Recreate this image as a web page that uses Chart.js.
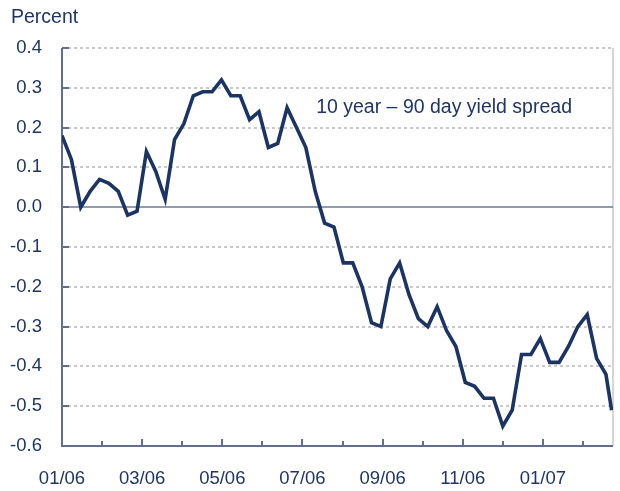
<!DOCTYPE html>
<html>
<head>
<meta charset="utf-8">
<style>
  html, body { margin: 0; padding: 0; background: #fff; }
  #wrap { width: 620px; height: 491px; }
</style>
<script src="https://cdn.jsdelivr.net/npm/chart.js@4.4.0/dist/chart.umd.min.js"></script>
</head>
<body>
<div id="wrap"><canvas id="spreadCanvas"></canvas></div>
<script>
// month ticks along the bottom, one per month from 01/06, only every other one labelled
const monthLabels = ['01/06', '', '03/06', '', '05/06', '', '07/06', '', '09/06', '', '11/06', '', '01/07', '']

// weekly 10 year - 90 day spread, percent
const spread = [
  0.18, 0.12, 0.00, 0.04, 0.07, 0.06, 0.04, -0.02, -0.01, 0.14,
  0.09, 0.02, 0.17, 0.21, 0.28, 0.29, 0.29, 0.32, 0.28, 0.28,
  0.22, 0.24, 0.15, 0.16, 0.25, 0.20, 0.15, 0.04, -0.04, -0.05,
  -0.14, -0.14, -0.20, -0.29, -0.30, -0.18, -0.14, -0.22, -0.28, -0.30,
  -0.25, -0.31, -0.35, -0.44, -0.45, -0.48, -0.48, -0.55, -0.51, -0.37,
  -0.37, -0.33, -0.39, -0.39, -0.35, -0.30, -0.27, -0.38, -0.42, -0.51
]
// the last reading comes a few days after the previous week
const lastWeek = 58.6
const weeksPerMonth = 4.273
const weeksShown = 58.75

const seriesLabel = '10 year \u2013 90 day yield spread'
const unitLabel = 'Percent'

const navy = '#1b3464'
const textColor = '#1f3664'
const axisColor = '#5f6f8c'
const font = '"Liberation Sans", Arial, sans-serif'

const points = spread.map((v, i) => ({ x: i === spread.length - 1 ? lastWeek : i, y: v }))

const axesPlugin = {
  id: 'axes',
  beforeDatasetsDraw(chart) {
    const { ctx, chartArea: a, scales: { x, y } } = chart
    ctx.save()
    // dotted grid
    ctx.lineWidth = 1.5
    ctx.strokeStyle = '#b8b8b8'
    ctx.setLineDash([3, 3])
    y.ticks.forEach(t => {
      if (Math.abs(t.value) < 1e-9 || t.value < y.min + 1e-9) return
      const py = Math.round(y.getPixelForValue(t.value))
      ctx.beginPath(); ctx.moveTo(a.left, py); ctx.lineTo(a.right, py); ctx.stroke()
    })
    ctx.setLineDash([])
    // right frame
    ctx.strokeStyle = '#c8c8c8'
    ctx.beginPath(); ctx.moveTo(a.right, a.top); ctx.lineTo(a.right, a.bottom); ctx.stroke()
    // zero line
    const zy = Math.round(y.getPixelForValue(0))
    ctx.strokeStyle = '#6c7b97'
    ctx.beginPath(); ctx.moveTo(a.left, zy); ctx.lineTo(a.right, zy); ctx.stroke()
    // axes
    ctx.strokeStyle = axisColor
    ctx.lineWidth = 2
    ctx.beginPath()
    ctx.moveTo(a.left, a.top); ctx.lineTo(a.left, a.bottom); ctx.lineTo(a.right, a.bottom)
    ctx.stroke()
    // inward ticks
    y.ticks.forEach(t => {
      const py = Math.round(y.getPixelForValue(t.value))
      ctx.beginPath(); ctx.moveTo(a.left, py); ctx.lineTo(a.left + 7, py); ctx.stroke()
    })
    x.ticks.forEach((t, k) => {
      const px = Math.round(x.getPixelForValue(t.value))
      const len = k % 2 === 0 ? 7 : 5
      ctx.beginPath(); ctx.moveTo(px, a.bottom); ctx.lineTo(px, a.bottom - len); ctx.stroke()
    })
    ctx.restore()
  },
  afterDraw(chart) {
    const { ctx, scales: { x, y } } = chart
    ctx.save()
    ctx.fillStyle = textColor
    ctx.font = '19.5px ' + font
    ctx.textBaseline = 'middle'
    ctx.textAlign = 'left'
    ctx.fillText(unitLabel, 11, 18)
    ctx.fillText(seriesLabel, x.getPixelForValue(27.1), y.getPixelForValue(0.251))
    ctx.restore()
  }
}

const spreadChart = new Chart(document.getElementById('spreadCanvas'), {
  type: 'line',
  data: {
    datasets: [{
      label: seriesLabel,
      data: points,
      borderColor: navy,
      borderWidth: 3.6,
      pointRadius: 0,
      tension: 0,
      fill: false
    }]
  },
  options: {
    responsive: true,
    maintainAspectRatio: false,
    animation: false,
    layout: { padding: { top: 48, right: 7, left: 0, bottom: 0 } },
    plugins: { legend: { display: false }, tooltip: { enabled: false } },
    scales: {
      x: {
        type: 'linear',
        min: 0,
        max: weeksShown,
        grid: { display: false },
        border: { display: false },
        afterBuildTicks: scale => {
          scale.ticks = monthLabels.map((l, k) => ({ value: k * weeksPerMonth }))
        },
        afterFit: scale => { scale.height = 45 },
        ticks: {
          autoSkip: false,
          maxRotation: 0,
          padding: 14,
          color: textColor,
          font: { family: font, size: 18.5 },
          callback: (v, i) => monthLabels[i]
        }
      },
      y: {
        min: -0.6,
        max: 0.4,
        grid: { display: false },
        border: { display: false },
        afterFit: scale => { scale.width = 62 },
        ticks: {
          stepSize: 0.1,
          padding: 12,
          color: textColor,
          font: { family: font, size: 18.5 },
          callback: v => Math.abs(v) < 1e-9 ? '0.0' : v.toFixed(1)
        }
      }
    }
  },
  plugins: [axesPlugin]
})
</script>
</body>
</html>
